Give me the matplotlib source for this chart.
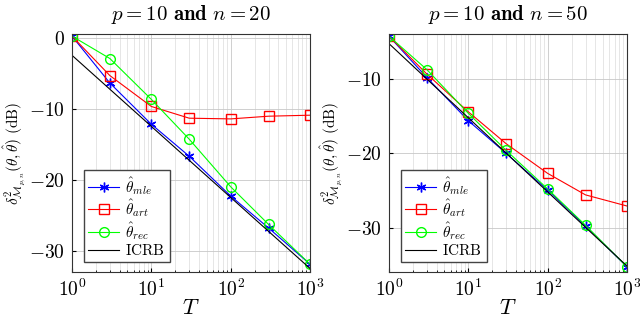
import numpy as np
import matplotlib
matplotlib.use("Agg")
import matplotlib.pyplot as plt
from matplotlib.ticker import FuncFormatter, LogLocator, NullFormatter

plt.rcParams["mathtext.fontset"] = "cm"
plt.rcParams["font.family"] = "serif"
plt.rcParams["font.serif"] = ["DejaVu Serif"]

# Data
T = [1, 3, 10, 30, 100, 300, 1000]

# p = 10, n = 20
mle_20 = [0.2, -6.4, -12.2, -16.7, -22.3, -26.8, -31.9]
art_20 = [0.2, -5.35, -9.7, -11.35, -11.45, -11.07, -10.93]
rec_20 = [0.2, -2.95, -8.7, -14.3, -21.0, -26.3, -31.9]
icrb_20 = [-2.5, -32.5]

# p = 10, n = 50
mle_50 = [-4.2, -9.77, -15.6, -20.0, -24.96, -29.8, -35.3]
art_50 = [-4.2, -9.3, -14.4, -18.7, -22.7, -25.6, -27.1]
rec_50 = [-4.2, -8.7, -14.6, -19.6, -24.8, -29.7, -35.3]
icrb_50 = [-5.2, -35.2]
icrb_T = [1, 1000]

panels = [
    (r"$p = 10$ $\mathbf{and}$ $n = 20$", mle_20, art_20, rec_20, icrb_20, (-33, 0.5), [0, -10, -20, -30]),
    (r"$p = 10$ $\mathbf{and}$ $n = 50$", mle_50, art_50, rec_50, icrb_50, (-36, -3.9), [-10, -20, -30]),
]

fig = plt.figure(figsize=(6.4, 3.19), dpi=100)
boxes = [[72 / 640, 1 - 272 / 319, 238 / 640, 238 / 319],
         [389 / 640, 1 - 272 / 319, 238 / 640, 238 / 319]]

for box, (title, mle, art, rec, icrb, ylim, yt) in zip(boxes, panels):
    ax = fig.add_axes(box)
    ax.plot(T, mle, color="blue", marker=(6, 2, 0), ms=7, lw=0.8, label=r"$\hat{\theta}_{mle}$")
    ax.plot(T, art, color="red", marker="s", ms=7, mfc="none", lw=0.8, label=r"$\hat{\theta}_{art}$")
    ax.plot(T, rec, color="#00ff00", marker="o", ms=7, mfc="none", lw=0.8, label=r"$\hat{\theta}_{rec}$")
    ax.plot(icrb_T, icrb, color="black", lw=0.8, label=r"$\mathrm{ICRB}$")
    ax.set_xscale("log")
    ax.set_xlim(1, 1000)
    ax.set_ylim(*ylim)
    ax.set_yticks(yt)
    ax.yaxis.set_major_formatter(FuncFormatter(lambda v, p: r"$%d$" % v))
    ax.xaxis.set_major_locator(LogLocator(base=10, numticks=10))
    ax.xaxis.set_major_formatter(FuncFormatter(lambda v, p: r"$10^{%d}$" % round(np.log10(v))))
    ax.xaxis.set_minor_locator(LogLocator(base=10, subs=np.arange(2, 10), numticks=10))
    ax.xaxis.set_minor_formatter(NullFormatter())
    ax.grid(True, which="major", color="#c8c8c8", lw=0.6)
    ax.grid(True, which="minor", axis="x", color="#dcdcdc", lw=0.5)
    for s in ax.spines.values():
        s.set_color("#333333")
    ax.tick_params(which="both", direction="in", labelsize=14, length=3, pad=5)
    ax.tick_params(which="minor", length=1.5)
    ax.set_xlabel(r"$T$", fontsize=16)
    ax.xaxis.set_label_coords(0.5, -0.105)
    ax.set_ylabel(r"$\delta^2_{\mathcal{M}_{p,n}}(\theta,\hat{\theta})$ $\mathrm{(dB)}$", fontsize=11)
    ax.yaxis.set_label_coords(-0.245, 0.5)
    ax.yaxis.label.set_va("center")
    ax.set_title(title, fontsize=15, pad=10)
    ax.legend(loc="lower left", bbox_to_anchor=(0.05, 0.04), fontsize=11, fancybox=False,
              edgecolor="#444444", framealpha=1, handlelength=2.0, handletextpad=0.4,
              borderpad=0.3, labelspacing=0.05, numpoints=1, borderaxespad=0)

fig.savefig("out.png", dpi=100)
